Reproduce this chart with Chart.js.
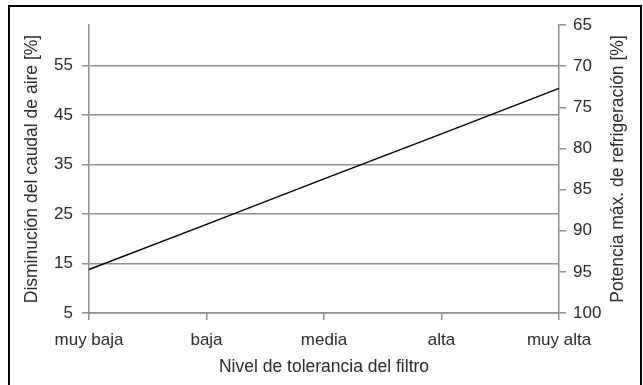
<!DOCTYPE html>
<html>
<head>
<meta charset="utf-8">
<script src="https://cdn.jsdelivr.net/npm/chart.js@4/dist/chart.umd.min.js"></script>
<style>
  html, body { margin: 0; padding: 0; background: #fff; overflow: hidden; }
  #wrap { position: relative; width: 643px; height: 385px; }
  #frame { position: absolute; left: 8px; top: 5px; width: 630px; height: 400px; border: 2px solid #000; pointer-events: none; }
  canvas { position: absolute; left: 0; top: 0; }
</style>
</head>
<body>
<div id="wrap">
  <canvas id="c" width="643" height="385"></canvas>
  <div id="frame"></div>
</div>
<script>
const categories = ['muy baja', 'baja', 'media', 'alta', 'muy alta'];
const caudalValues = [13.8, 22.9, 32.1, 41.2, 50.4];
const leftTicks = [5, 15, 25, 35, 45, 55];
const rightTicks = [65, 70, 75, 80, 85, 90, 95, 100];
const leftMin = 5, leftMax = 63.2;
const rightMin = 65, rightMax = 100;
const xTitle = 'Nivel de tolerancia del filtro';
const leftTitle = 'Disminución del caudal de aire [%]';
const rightTitle = 'Potencia máx. de refrigeración [%]';

const FONT = "'Liberation Sans', Arial, sans-serif";
const TXT = '#2a2a2a';
const GRID = '#8f8f8f';
const TICK_SIZE = 17;
const TITLE_SIZE = 17.5;

const rightTitlePlugin = {
  id: 'rightTitle',
  afterDraw(chart) {
    const ctx = chart.ctx;
    const a = chart.chartArea;
    ctx.save();
    ctx.font = TITLE_SIZE + 'px ' + FONT;
    ctx.fillStyle = TXT;
    ctx.textAlign = 'center';
    ctx.textBaseline = 'middle';
    ctx.translate(618, (a.top + a.bottom) / 2);
    ctx.rotate(-Math.PI / 2);
    ctx.fillText(rightTitle, 0, 0);
    ctx.restore();
  }
};

new Chart(document.getElementById('c'), {
  type: 'line',
  data: {
    labels: categories,
    datasets: [{
      data: caudalValues,
      yAxisID: 'y',
      borderColor: '#000',
      borderWidth: 1.5,
      pointRadius: 0,
      tension: 0,
      fill: false
    }]
  },
  options: {
    responsive: false,
    animation: false,
    layout: { padding: { top: 25, left: 0, right: 0, bottom: 0 } },
    plugins: { legend: { display: false }, tooltip: { enabled: false } },
    scales: {
      x: {
        type: 'category',
        offset: false,
        grid: { drawOnChartArea: false, drawTicks: true, tickLength: 7, color: GRID, lineWidth: 1.5 },
        border: { display: true, color: GRID, width: 1.5 },
        ticks: { color: TXT, font: { family: FONT, size: TICK_SIZE }, padding: 10, maxRotation: 0 },
        title: { display: true, text: xTitle, color: TXT, font: { family: FONT, size: TITLE_SIZE }, padding: { top: 0, bottom: 7 } },
        afterFit: s => { s.height = 72; }
      },
      y: {
        position: 'left',
        min: leftMin,
        max: leftMax,
        afterBuildTicks: s => { s.ticks = leftTicks.map(v => ({ value: v })); },
        grid: { color: GRID, lineWidth: 1.5, drawTicks: true, tickLength: 7 },
        border: { display: true, color: GRID, width: 1.5 },
        ticks: { color: TXT, font: { family: FONT, size: TICK_SIZE }, padding: 9 },
        title: { display: true, text: leftTitle, color: TXT, font: { family: FONT, size: TITLE_SIZE }, padding: { top: 22, bottom: 0 } },
        afterFit: s => { s.width = 89; }
      },
      y2: {
        position: 'right',
        min: rightMin,
        max: rightMax,
        reverse: true,
        afterBuildTicks: s => { s.ticks = rightTicks.map(v => ({ value: v })); },
        grid: { drawOnChartArea: false, drawTicks: true, tickLength: 7, color: GRID, lineWidth: 1.5 },
        border: { display: true, color: GRID, width: 1.5 },
        ticks: { color: TXT, font: { family: FONT, size: TICK_SIZE }, padding: 7 },
        afterFit: s => { s.width = 84; }
      }
    }
  },
  plugins: [rightTitlePlugin]
});
</script>
</body>
</html>
